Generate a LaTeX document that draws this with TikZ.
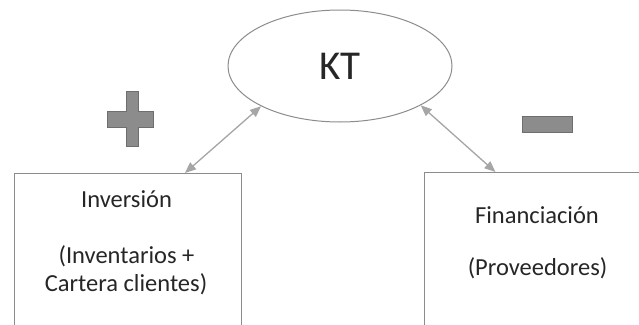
\documentclass[tikz,border=0pt]{standalone}
\usepackage{fontspec}
\setmainfont{Carlito}
\usetikzlibrary{arrows.meta,shapes.geometric}
\definecolor{txt}{HTML}{262626}
\definecolor{edge}{HTML}{8C8C8C}
\definecolor{arr}{HTML}{A6A6A6}
\definecolor{signfill}{HTML}{8C8C8C}
\definecolor{signedge}{HTML}{6E6E6E}
\tikzset{
  box/.style={draw=edge, line width=0.9pt, rectangle, anchor=north west, inner sep=0pt},
  lbl/.style={text=txt, font=\fontsize{24.5}{28}\selectfont, inner sep=0pt, anchor=base},
  link/.style={draw=arr, line width=1.3pt, {Triangle[length=11pt,width=9pt]}-{Triangle[length=11pt,width=9pt]}},
  sign/.style={fill=signfill, draw=signedge, line width=0.6pt}
}
\begin{document}
\begin{tikzpicture}[x=1pt,y=-1pt]
\useasboundingbox (0,0) rectangle (639,324);
\clip (0,0) rectangle (639,324);
\fill[white] (0,0) rectangle (639,324);
% ellipse
\node[ellipse, draw=edge, line width=1pt, minimum width=224pt, minimum height=112pt, inner sep=0pt,
      text=txt, font=\fontsize{41}{48}\selectfont] (kt) at (340,66) {KT};
% boxes
\node[box, minimum width=227pt, minimum height=170pt] (inv) at (14,173) {};
\node[box, minimum width=230pt, minimum height=170pt] (fin) at (424,172) {};
% texts
\node[lbl] (t1) at (126.5,207) {Inversión};
\node[lbl] (t2) at (126.5,263) {(Inventarios +};
\node[lbl] (t3) at (126,291) {Cartera clientes)};
\node[lbl] (t4) at (537,223) {Financiación};
\node[lbl] (t5) at (537.5,275) {(Proveedores)};
% signs
\path[sign] (126,91) -- (138,91) -- (138,111) -- (153,111) -- (153,127) -- (138,127) -- (138,146)
   -- (126,146) -- (126,127) -- (107,127) -- (107,111) -- (126,111) -- cycle;
\path[sign] (522,116) rectangle (572,132);
% connectors
\draw[link] (kt.207) -- ([xshift=57pt]inv.north);
\draw[link] (kt.334) -- ([xshift=-44pt]fin.north);
\end{tikzpicture}
\end{document}
